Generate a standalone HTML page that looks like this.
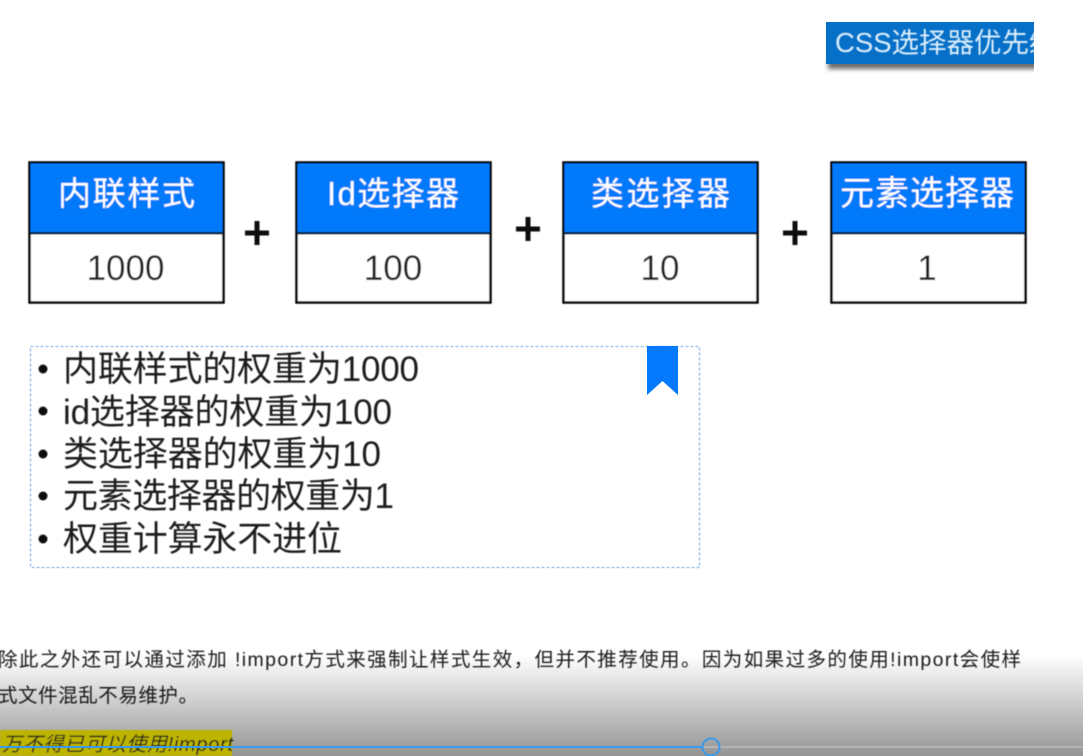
<!DOCTYPE html>
<html>
<head>
<meta charset="utf-8">
<style>
html,body{margin:0;padding:0;background:#fff;width:1083px;height:756px;overflow:hidden}
svg{display:block}
text{font-family:"Liberation Sans","Noto Sans CJK SC",sans-serif}
.h{fill:#fff;font-size:33px}
.n{fill:#222;font-size:35px;text-anchor:middle}
.l{fill:#1c1c1c;font-size:35px}
.p{fill:#1a1a1a;font-size:19.500px}
.soft{filter:url(#b)}
</style>
</head>
<body>
<svg width="1083" height="756" viewBox="0 0 1083 756" xmlns="http://www.w3.org/2000/svg">
<defs>
<filter id="b" x="-5%" y="-5%" width="110%" height="110%"><feGaussianBlur stdDeviation="0.6"/></filter>
<filter id="s" x="-10%" y="-60%" width="120%" height="220%"><feGaussianBlur stdDeviation="2.500"/></filter>
<linearGradient id="g" x1="0" y1="0" x2="0" y2="1">
<stop offset="0" stop-color="#000" stop-opacity="0"/>
<stop offset="1" stop-color="#000" stop-opacity="0.42"/>
</linearGradient>
<clipPath id="c"><rect x="820" y="15" width="214" height="70"/></clipPath>
</defs>
<rect width="1083" height="756" fill="#fff"/>

<g clip-path="url(#c)">
<rect x="828" y="60" width="210" height="9" fill="#444" opacity=".8" filter="url(#s)"/>
<rect x="826" y="22" width="212" height="42" fill="#0670c8"/>
<text x="835" y="52" fill="#dcedfb" class="soft" style="font-size:27.500px">CSS选择器优先级</text>
</g>

<g class="soft">
<g fill="#fff" stroke="#000" stroke-width="2.500">
<rect x="29.500" y="162.500" width="194" height="140"/>
<rect x="296.500" y="162.500" width="194" height="140"/>
<rect x="563.500" y="162.500" width="194" height="140"/>
<rect x="831.500" y="162.500" width="194" height="140"/>
</g>
<g fill="#0579fb">
<rect x="30.500" y="163.500" width="192" height="69"/>
<rect x="297.500" y="163.500" width="192" height="69"/>
<rect x="564.500" y="163.500" width="192" height="69"/>
<rect x="832.500" y="163.500" width="192" height="69"/>
</g>
<g fill="#06223f">
<rect x="30" y="232" width="193" height="2.500"/>
<rect x="297" y="232" width="193" height="2.500"/>
<rect x="564" y="232" width="193" height="2.500"/>
<rect x="832" y="232" width="193" height="2.500"/>
</g>
<text class="h" x="58" y="205" textLength="137">内联样式</text>
<text class="h" x="327" y="205" textLength="132">Id选择器</text>
<text class="h" x="591" y="205" textLength="139">类选择器</text>
<text class="h" x="840" y="205" textLength="174" style="font-size:34px">元素选择器</text>
<text class="n" x="125.500" y="280">1000</text>
<text class="n" x="393" y="280">100</text>
<text class="n" x="660" y="280">10</text>
<text class="n" x="927" y="280">1</text>
<g fill="#111">
<rect x="245" y="230.500" width="24" height="5"/><rect x="254.500" y="221" width="5" height="24"/>
<rect x="516" y="226.500" width="24" height="5"/><rect x="525.500" y="217" width="5" height="24"/>
<rect x="783" y="230.500" width="24" height="5"/><rect x="792.500" y="221" width="5" height="24"/>
</g>
</g>

<rect x="30.500" y="346.500" width="669" height="221" fill="none" stroke="#a3c8f0" stroke-width="1.600" stroke-dasharray="3 2"/>
<polygon points="647,346 678,346 678,395 662.500,381 647,395" fill="#0579fb"/>
<g class="soft">
<g fill="#111">
<circle cx="43" cy="369" r="4.500"/><circle cx="43" cy="411" r="4.500"/><circle cx="43" cy="454" r="4.500"/><circle cx="43" cy="496" r="4.500"/><circle cx="43" cy="539" r="4.500"/>
</g>
<text class="l" x="63" y="381" textLength="356">内联样式的权重为1000</text>
<text class="l" x="63" y="424" textLength="329">id选择器的权重为100</text>
<text class="l" x="63" y="466" textLength="318">类选择器的权重为10</text>
<text class="l" x="63" y="508" textLength="331">元素选择器的权重为1</text>
<text class="l" x="63" y="551" textLength="279">权重计算永不进位</text>
</g>

<g class="soft">
<text class="p" x="-2" y="666" textLength="1023">除此之外还可以通过添加 !import方式来强制让样式生效，但并不推荐使用。因为如果过多的使用!import会使样</text>
<text class="p" x="-2" y="702" textLength="200">式文件混乱不易维护。</text>
</g>

<rect x="0" y="655" width="1083" height="101" fill="url(#g)"/>

<g class="soft">
<rect x="0" y="730" width="232" height="26" fill="#bdb400"/>
<text class="p" x="2" y="751" textLength="231" style="font-style:italic;font-size:20px">万不得已可以使用!import</text>
</g>

<rect x="702" y="746" width="381" height="2" fill="#b4b4b4"/>
<rect x="0" y="746" width="702" height="2" fill="#3a9bea"/>
<circle cx="711" cy="747" r="8.500" fill="none" stroke="#3a9bea" stroke-width="2"/>
</svg>
</body>
</html>
